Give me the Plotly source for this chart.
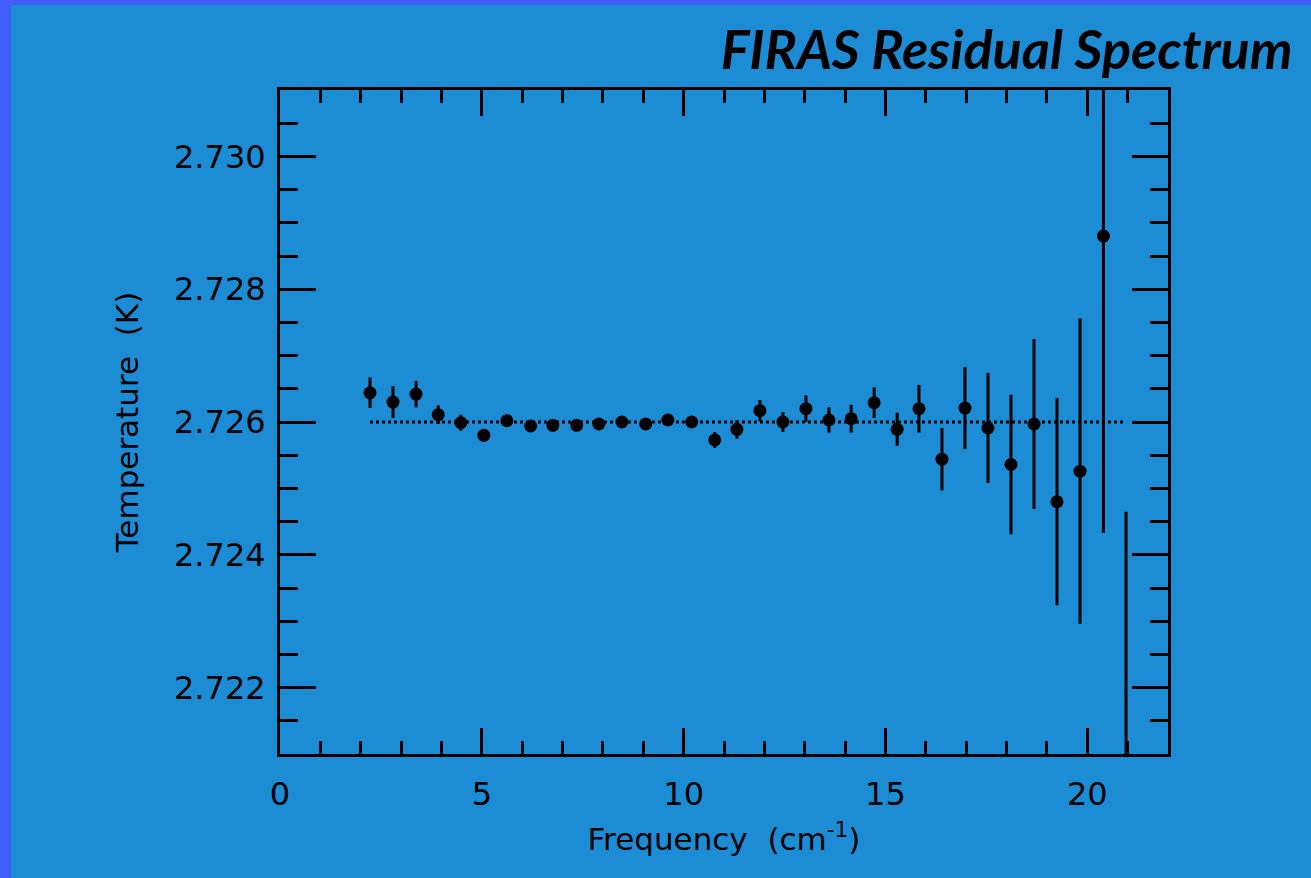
import plotly.graph_objects as go

# ---- data ----
freq = [2.23, 2.80, 3.37, 3.92, 4.48, 5.05, 5.62, 6.21, 6.76, 7.35, 7.90, 8.47,
        9.06, 9.61, 10.20, 10.77, 11.32, 11.89, 12.46, 13.03, 13.60, 14.15,
        14.72, 15.29, 15.83, 16.40, 16.97, 17.54, 18.11, 18.68, 19.25, 19.82,
        20.40, 20.96]
temp = [2.72644, 2.72630, 2.72642, 2.72611, 2.72599, 2.72580, 2.72602, 2.72594,
        2.72595, 2.72595, 2.72597, 2.72600, 2.72597, 2.72603, 2.72600, 2.72573,
        2.72589, 2.72617, 2.72600, 2.72620, 2.72603, 2.72605, 2.72629, 2.72589,
        2.72620, 2.72544, 2.72621, 2.72591, 2.72536, 2.72597, 2.72480, 2.72526,
        2.72880, 2.71900]
err = [0.00023, 0.00024, 0.00020, 0.00014, 0.00012, 0.00006, 0.00006, 0.00006,
       0.00006, 0.00006, 0.00006, 0.00006, 0.00006, 0.00007, 0.00008, 0.00012,
       0.00014, 0.00016, 0.00015, 0.00020, 0.00019, 0.00021, 0.00023, 0.00025,
       0.00036, 0.00047, 0.00062, 0.00083, 0.00105, 0.00128, 0.00156, 0.00230,
       0.00447, 0.00565]
fit_freq = [2.23, 20.96]
fit_temp = [2.726, 2.726]

x_ticks = [0, 5, 10, 15, 20]
y_ticks = [2.722, 2.724, 2.726, 2.728, 2.730]

BG = "#1C8DD4"
EDGE = "#3F5FF6"
FONT = "DejaVu Sans"

fig = go.Figure()
fig.add_trace(go.Scatter(
    x=fit_freq, y=fit_temp, mode="lines",
    line=dict(color="black", width=3, dash="dot"),
    hoverinfo="skip", showlegend=False))
fig.add_trace(go.Scatter(
    x=freq, y=temp, mode="markers",
    marker=dict(color="black", size=13),
    error_y=dict(type="data", array=err, color="black", thickness=3, width=0),
    showlegend=False))

axis_common = dict(
    showline=True, linecolor="black", linewidth=3, mirror="ticks",
    ticks="inside", tickcolor="black", tickwidth=2.5,
    showgrid=False, zeroline=False,
    tickfont=dict(family=FONT, size=32, color="black"),
)

fig.update_xaxes(
    **axis_common, range=[0, 22], tickvals=x_ticks,
    ticktext=[str(v) for v in x_ticks], ticklen=26, ticklabelstandoff=10,
    minor=dict(dtick=1, tick0=0, ticklen=13, tickwidth=2.5, tickcolor="black",
               ticks="inside", showgrid=False),
    title=dict(text="Frequency  (cm<sup>-1</sup>)",
               font=dict(family=FONT, size=31, color="black"), standoff=16),
)
fig.update_yaxes(
    **axis_common, range=[2.721, 2.731], tickvals=y_ticks,
    ticktext=[f"{v:.3f}" for v in y_ticks], ticklen=36, ticklabelstandoff=5,
    minor=dict(dtick=0.0005, tick0=2.721, ticklen=18, tickwidth=2.5,
               tickcolor="black", ticks="inside", showgrid=False),
    title=dict(text="Temperature  (K)",
               font=dict(family=FONT, size=31, color="black"), standoff=27),
)

fig.update_layout(
    width=1311, height=878, autosize=False,
    paper_bgcolor=BG, plot_bgcolor=BG,
    margin=dict(l=280, r=143, t=90, b=124),
    title=dict(text="<b><i>FIRAS Residual Spectrum</i></b>",
               font=dict(family="Lato", size=54, color="black"),
               xref="container", x=0.986, xanchor="right",
               yref="container", y=0.943, yanchor="middle"),
    shapes=[
        dict(type="rect", xref="paper", yref="paper",
             x0=-0.33, x1=-0.3029, y0=-0.3, y1=1.2,
             fillcolor=EDGE, line_width=0, layer="above"),
        dict(type="rect", xref="paper", yref="paper",
             x0=-0.33, x1=1.2, y0=1.128, y1=1.2,
             fillcolor=EDGE, line_width=0, layer="above"),
    ],
)

fig.write_html(
    "out.html",
    config={"displayModeBar": False},
    post_script="document.body.style.margin='0';document.body.style.overflow='hidden';",
)
